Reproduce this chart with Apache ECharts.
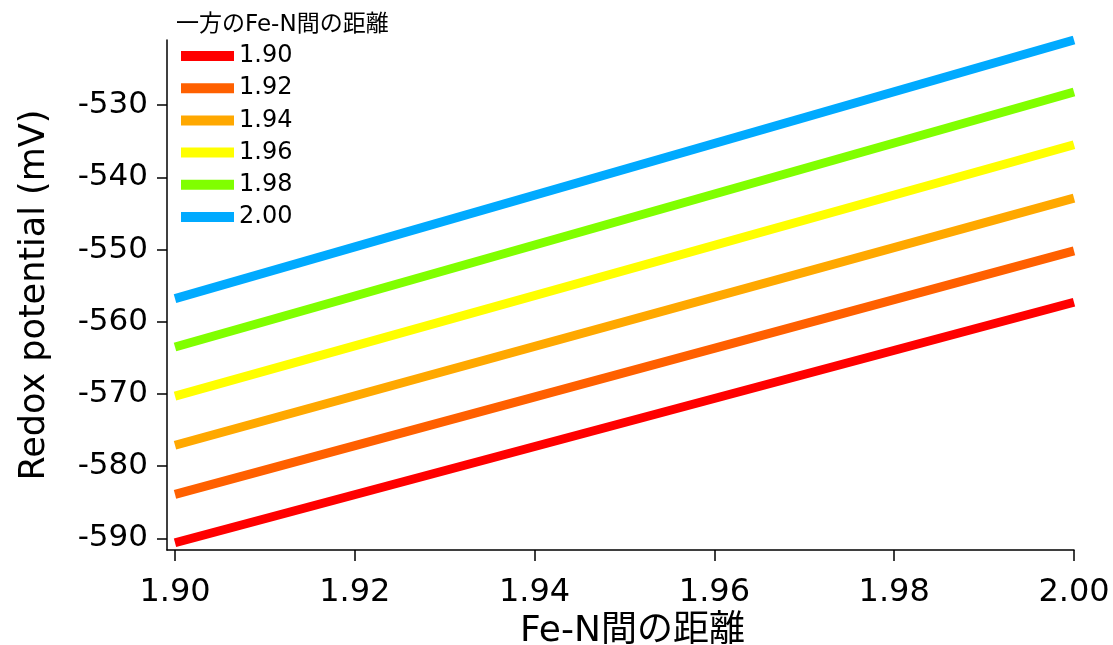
<!DOCTYPE html>
<html>
<head>
<meta charset="utf-8">
<script src="https://cdn.jsdelivr.net/npm/echarts@6/dist/echarts.min.js"></script>
<style>
  html, body { margin: 0; padding: 0; background: #fff; }
  #chart { width: 1113px; height: 645px; }
</style>
</head>
<body>
<div id="chart"></div>
<script>
// Fe-N distance on the x axis (Å)
const distances = [1.90, 2.00];

// Other Fe-N distance, one line per value
const seriesNames = ['1.90', '1.92', '1.94', '1.96', '1.98', '2.00'];
const seriesColors = ['#ff0000', '#ff6000', '#ffa800', '#ffff00', '#80ff00', '#00aaff'];

// Redox potential (mV) at each x distance
const pot190 = [-590.6, -557.3];
const pot192 = [-583.9, -550.2];
const pot194 = [-577.1, -542.9];
const pot196 = [-570.3, -535.5];
const pot198 = [-563.5, -528.2];
const pot200 = [-556.8, -521.0];
const potentials = [pot190, pot192, pot194, pot196, pot198, pot200];

// Tick positions
const xTicks = [1.90, 1.92, 1.94, 1.96, 1.98, 2.00];
const yTicks = [-590, -580, -570, -560, -550, -540, -530];

const FONT = 'DejaVu Sans, "Noto Sans CJK JP", sans-serif';

const chart = echarts.init(document.getElementById('chart'), null, { renderer: 'canvas' });

const series = seriesNames.map((name, i) => ({
  name: name,
  type: 'line',
  data: distances.map((x, j) => [x, potentials[i][j]]),
  showSymbol: false,
  symbol: 'none',
  color: seriesColors[i],
  lineStyle: { width: 9, color: seriesColors[i], cap: 'butt' },
  emphasis: { disabled: true },
  animation: false
}));

chart.setOption({
  backgroundColor: '#ffffff',
  animation: false,
  title: {
    text: '一方のFe-N間の距離',
    left: 176,
    top: 14,
    padding: 0,
    textStyle: { fontFamily: FONT, fontSize: 23, fontWeight: 'normal', color: '#000' }
  },
  legend: {
    orient: 'vertical',
    left: 181,
    top: 44,
    padding: 0,
    icon: 'rect',
    itemWidth: 53,
    itemHeight: 10,
    itemGap: 8.2,
    itemTextGap: 17,
    textStyle: { fontFamily: FONT, fontSize: 24, lineHeight: 24, color: '#000' },
    data: seriesNames
  },
  grid: { left: 167, right: 39, top: 40, bottom: 95, containLabel: false, outerBoundsMode: 'none' },
  xAxis: {
    type: 'value',
    min: 1.89911,
    max: 2.00,
    name: 'Fe-N間の距離',
    nameLocation: 'middle',
    nameGap: 60,
    nameTextStyle: { fontFamily: FONT, fontSize: 36, color: '#000', padding: [0, 0, 0, 24] },
    axisLine: { onZero: false, lineStyle: { color: '#000', width: 1.5 } },
    axisTick: { show: true, inside: false, length: 11, lineStyle: { color: '#000', width: 1.5 }, customValues: xTicks },
    axisLabel: {
      fontFamily: FONT, fontSize: 32, color: '#000', margin: 27,
      customValues: xTicks,
      formatter: v => v.toFixed(2)
    },
    splitLine: { show: false }
  },
  yAxis: {
    type: 'value',
    min: -591.6,
    max: -521.0,
    name: 'Redox potential (mV)',
    nameLocation: 'middle',
    nameGap: 115,
    nameTextStyle: { fontFamily: FONT, fontSize: 35, color: '#000' },
    axisLine: { onZero: false, lineStyle: { color: '#000', width: 1.5 } },
    axisTick: { show: true, inside: false, length: 10, lineStyle: { color: '#000', width: 1.5 }, customValues: yTicks },
    axisLabel: {
      fontFamily: FONT, fontSize: 31, color: '#000', margin: 19,
      customValues: yTicks,
      formatter: v => String(Math.round(v))
    },
    splitLine: { show: false }
  },
  series: series
});
</script>
</body>
</html>
